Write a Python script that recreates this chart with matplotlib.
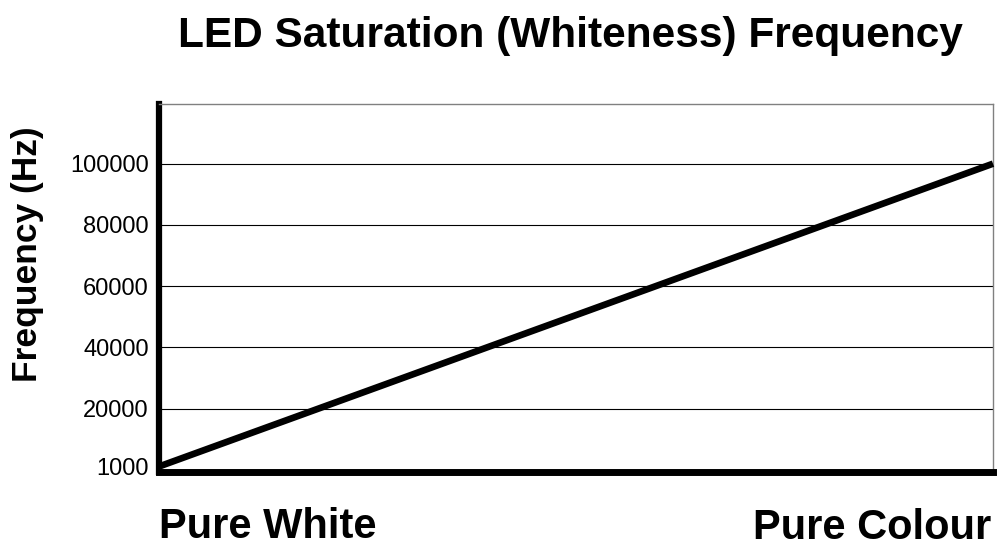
"""
LED saturation vs. drive frequency chart
"""
import matplotlib.pyplot as plt

plt.rcParams['font.family'] = ['Liberation Sans', 'DejaVu Sans']

# Saturation endpoints and the frequency at each end
saturation = [0, 1]
frequency = [1000, 100000]
freq_ticks = [1000, 20000, 40000, 60000, 80000, 100000]
end_labels = ["Pure White", "Pure Colour"]

fig = plt.figure(figsize=(9.99, 5.48), dpi=100, facecolor='white')
ax = fig.add_axes([0.1587, 0.1378, 0.8353, 0.6724])

# Horizontal grid only, plain black hairlines
for t in freq_ticks[1:]:
    ax.axhline(t, color='black', linewidth=0.8, zorder=1)

ax.plot(saturation, frequency, color='black', linewidth=4.8,
        solid_capstyle='butt', zorder=3, clip_on=False)

ax.set_xlim(0, 1)
ax.set_ylim(-900, 119500)
ax.set_yticks(freq_ticks)
ax.set_yticklabels([str(t) for t in freq_ticks])
ax.set_xticks([])
ax.tick_params(axis='y', length=0, pad=7, labelsize=17)

# Heavy left/bottom axes, thin grey frame on the other sides
ax.spines['left'].set_linewidth(4.5)
ax.spines['bottom'].set_linewidth(5)
for side in ('top', 'right'):
    ax.spines[side].set_color('#808080')
    ax.spines[side].set_linewidth(1)

# Axis title set on the figure so it sits at a fixed spot
fig.text(0.037, 0.5365, "Frequency (Hz)", rotation=90, rotation_mode='anchor',
         ha='center', va='baseline', fontsize=25.5, fontweight='bold')

fig.text(0.5706, 0.914, "LED Saturation (Whiteness) Frequency",
         ha='center', va='baseline', fontsize=30.5, fontweight='bold')
fig.text(0.2678, 0.0183, end_labels[0], ha='center', va='baseline',
         fontsize=30, fontweight='bold')
fig.text(0.8725, 0.0170, end_labels[1], ha='center', va='baseline',
         fontsize=30, fontweight='bold')

fig.savefig("out.png", dpi=100, facecolor='white')
